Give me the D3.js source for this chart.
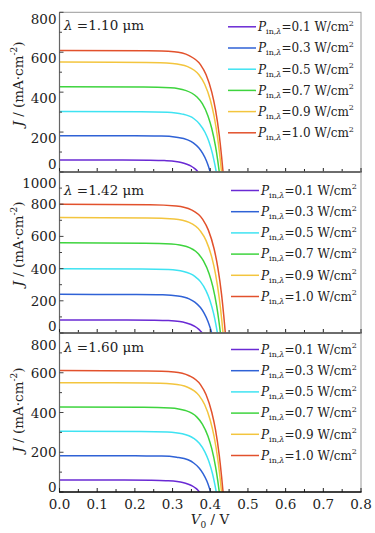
<!DOCTYPE html>
<html>
<head>
<meta charset="utf-8">
<script src="https://cdn.jsdelivr.net/npm/d3@7"></script>
<style>
  body { margin: 0; background: #fff; }
  #chart text { font-family: "DejaVu Serif", serif; }
</style>
</head>
<body>
<div id="chart"></div>
<script>
/* J-V curves of the cell at three wavelengths, six input powers each. */

const width = 375, height = 533;
const margin = { left: 59.5, right: 14 };

const powers = ["0.1", "0.3", "0.5", "0.7", "0.9", "1.0"];
const colors = ["#6a2ad4", "#2f62d6", "#3fe3f2", "#3ed43e", "#f3c53e", "#e2512c"];
const xTicks = [0, 0.1, 0.2, 0.3, 0.4, 0.5, 0.6, 0.7, 0.8];

// wavelength 1.10 um
const v110 = [
  [0, 0.168, 0.238, 0.278, 0.308, 0.323, 0.338, 0.348, 0.358, 0.364, 0.368],
  [0, 0.200, 0.270, 0.310, 0.340, 0.355, 0.370, 0.380, 0.390, 0.396, 0.400],
  [0, 0.216, 0.286, 0.326, 0.356, 0.371, 0.386, 0.396, 0.406, 0.412, 0.416],
  [0, 0.224, 0.294, 0.334, 0.364, 0.379, 0.394, 0.404, 0.414, 0.420, 0.424],
  [0, 0.230, 0.300, 0.340, 0.370, 0.385, 0.400, 0.410, 0.420, 0.426, 0.430],
  [0, 0.234, 0.304, 0.344, 0.374, 0.389, 0.404, 0.414, 0.424, 0.430, 0.434]
];
const j110 = [
  [60, 60, 59, 57, 53, 48, 39, 31, 18, 8, 0],
  [182, 181, 180, 174, 161, 146, 120, 93, 55, 24, 0],
  [303, 302, 299, 290, 268, 242, 199, 155, 91, 39, 0],
  [427, 426, 422, 409, 377, 342, 281, 218, 128, 56, 0],
  [551, 549, 544, 528, 487, 441, 362, 281, 165, 72, 0],
  [609, 607, 602, 583, 538, 487, 400, 311, 183, 79, 0]
];

// wavelength 1.42 um
const v142 = [
  [0, 0.179, 0.249, 0.289, 0.319, 0.334, 0.349, 0.359, 0.369, 0.375, 0.379],
  [0, 0.204, 0.274, 0.314, 0.344, 0.359, 0.374, 0.384, 0.394, 0.400, 0.404],
  [0, 0.219, 0.289, 0.329, 0.359, 0.374, 0.389, 0.399, 0.409, 0.415, 0.419],
  [0, 0.227, 0.297, 0.337, 0.367, 0.382, 0.397, 0.407, 0.417, 0.423, 0.427],
  [0, 0.234, 0.304, 0.344, 0.374, 0.389, 0.404, 0.414, 0.424, 0.430, 0.434],
  [0, 0.240, 0.310, 0.350, 0.380, 0.395, 0.410, 0.420, 0.430, 0.436, 0.440]
];
const j142 = [
  [80, 80, 79, 77, 71, 64, 53, 41, 24, 10, 0],
  [240, 239, 237, 230, 212, 192, 158, 122, 72, 31, 0],
  [399, 398, 394, 382, 352, 319, 262, 204, 120, 52, 0],
  [560, 558, 553, 537, 495, 448, 368, 286, 168, 73, 0],
  [717, 715, 708, 687, 633, 574, 471, 366, 215, 93, 0],
  [799, 797, 789, 765, 706, 639, 525, 408, 240, 104, 0]
];

// wavelength 1.60 um
const v160 = [
  [0, 0.172, 0.242, 0.282, 0.312, 0.327, 0.342, 0.352, 0.362, 0.368, 0.372],
  [0, 0.201, 0.271, 0.311, 0.341, 0.356, 0.371, 0.381, 0.391, 0.397, 0.401],
  [0, 0.216, 0.286, 0.326, 0.356, 0.371, 0.386, 0.396, 0.406, 0.412, 0.416],
  [0, 0.224, 0.294, 0.334, 0.364, 0.379, 0.394, 0.404, 0.414, 0.420, 0.424],
  [0, 0.230, 0.300, 0.340, 0.370, 0.385, 0.400, 0.410, 0.420, 0.426, 0.430],
  [0, 0.234, 0.304, 0.344, 0.374, 0.389, 0.404, 0.414, 0.424, 0.430, 0.434]
];
const j160 = [
  [60, 60, 59, 57, 53, 48, 39, 31, 18, 8, 0],
  [183, 182, 181, 175, 162, 146, 120, 93, 55, 24, 0],
  [306, 305, 302, 293, 270, 245, 201, 156, 92, 40, 0],
  [428, 427, 423, 410, 378, 342, 281, 218, 128, 56, 0],
  [550, 548, 543, 527, 486, 440, 361, 281, 165, 72, 0],
  [611, 609, 604, 585, 540, 489, 401, 312, 183, 79, 0]
];

const panels = [
  { lambda: "1.10", v: v110, j: j110, ymax: 800, yTicks: [0, 200, 400, 600, 800],
    top: 12.3, bottom: 172, labelDy: 6, topDy: 6.5, zeroDy: -8, lamY: 30, legTop: 14.5, legX: 228, titleY: 84 },
  { lambda: "1.42", v: v142, j: j142, ymax: 1000, yTicks: [0, 200, 400, 600, 800, 1000],
    top: 172, bottom: 333, labelDy: 0, topDy: 11, zeroDy: -7, lamY: 194.5, legTop: 18.5, legX: 231, titleY: 244 },
  { lambda: "1.60", v: v160, j: j160, ymax: 800, yTicks: [0, 200, 400, 600, 800],
    top: 333, bottom: 492, labelDy: 0, topDy: 12, zeroDy: -5, lamY: 351.5, legTop: 16.5, legX: 231, titleY: 410 }
];

const svg = d3.select("#chart")
  .append("svg")
  .attr("width", width)
  .attr("height", height)
  .attr("viewBox", [0, 0, width, height]);

let x = d3.scaleLinear()
  .domain([0, 0.8])
  .range([margin.left, width - margin.right]);

panels.forEach((p, pi) => {
  let y = d3.scaleLinear()
    .domain([0, p.ymax])
    .range([p.bottom, p.top]);

  let clipId = "clip" + pi;
  svg.append("clipPath").attr("id", clipId)
    .append("rect")
    .attr("x", x(0)).attr("y", p.top)
    .attr("width", x(0.8) - x(0)).attr("height", p.bottom - p.top);

  // grey frame
  svg.append("rect")
    .attr("x", x(0)).attr("y", p.top)
    .attr("width", x(0.8) - x(0)).attr("height", p.bottom - p.top)
    .attr("fill", "none")
    .attr("stroke", "#9a9a9a")
    .attr("stroke-width", 1);

  // curves
  let line = d3.line()
    .x(d => x(d[0]))
    .y(d => y(d[1]))
    .curve(d3.curveMonotoneX);

  p.v.forEach((vs, si) => {
    let pts = vs.map((v, k) => [v, p.j[si][k]]);
    svg.append("path")
      .datum(pts)
      .attr("clip-path", `url(#${clipId})`)
      .attr("d", line)
      .attr("fill", "none")
      .attr("stroke", colors[si])
      .attr("stroke-width", 1.5);
  });

  // left axis: inner ticks, end labels nudged inside like the original
  let yMinor = d3.range(0, p.ymax + 1, 100);
  let gy = svg.append("g");
  gy.append("line")
    .attr("x1", x(0)).attr("x2", x(0))
    .attr("y1", p.top).attr("y2", p.bottom)
    .attr("stroke", "#666").attr("stroke-width", 1.2);
  gy.selectAll(".yt")
    .data(yMinor)
    .join("line")
    .attr("x1", x(0)).attr("x2", d => x(0) + (d % 200 === 0 ? 4 : 2.5))
    .attr("y1", d => y(d)).attr("y2", d => y(d))
    .attr("stroke", "#444").attr("stroke-width", 1);
  gy.selectAll(".yl")
    .data(p.yTicks)
    .join("text")
    .attr("x", x(0) - 3)
    .attr("y", d => y(d) + 5 + (d === 0 ? p.zeroDy : d === p.ymax ? p.topDy : p.labelDy))
    .attr("text-anchor", "end")
    .attr("font-size", 13.5)
    .attr("fill", "#222")
    .text(d => d);

  // bottom axis of each panel, ticks pointing up
  let xMinor = d3.range(0, 0.81, 0.05);
  let gx = svg.append("g");
  gx.selectAll("line.xt")
    .data(xMinor)
    .join("line")
    .attr("x1", d => x(d)).attr("x2", d => x(d))
    .attr("y1", p.bottom).attr("y2", (d, i) => p.bottom - (i % 2 === 0 ? 4 : 3))
    .attr("stroke", "#222").attr("stroke-width", 1);
  gx.append("line")
    .attr("x1", x(0) - 0.5).attr("x2", x(0.8) + 0.5)
    .attr("y1", p.bottom).attr("y2", p.bottom)
    .attr("stroke", "#111").attr("stroke-width", 1.6);

  // wavelength label
  let lam = svg.append("text")
    .attr("x", 64).attr("y", p.lamY)
    .attr("font-size", 13.5).attr("fill", "#222");
  lam.append("tspan").attr("font-style", "italic").text("λ");
  lam.append("tspan").text(" =" + p.lambda + " μm");

  // y title
  let yt = svg.append("text")
    .attr("transform", `translate(23,${p.titleY}) rotate(-90)`)
    .attr("text-anchor", "middle")
    .attr("font-size", 13.5).attr("fill", "#222");
  yt.append("tspan").attr("font-style", "italic").text("J");
  yt.append("tspan").text(" / (mA·cm");
  yt.append("tspan").attr("font-size", 9).attr("dy", -6).text("-2");
  yt.append("tspan").attr("dy", 6).text(")");

  // legend
  powers.forEach((pw, si) => {
    let cy = p.top + p.legTop + si * 21.2;
    svg.append("line")
      .attr("x1", p.legX).attr("x2", p.legX + 28)
      .attr("y1", cy).attr("y2", cy)
      .attr("stroke", colors[si]).attr("stroke-width", 1.5);
    let t = svg.append("text")
      .attr("x", p.legX + 30).attr("y", cy + 4.3)
      .attr("font-size", 12).attr("fill", "#222");
    t.append("tspan").attr("font-style", "italic").text("P");
    t.append("tspan").attr("font-size", 8).attr("dy", 3).text("in,");
    t.append("tspan").attr("font-size", 8).attr("font-style", "italic").text("λ");
    t.append("tspan").attr("dy", -3).text("=" + pw + " W/cm");
    t.append("tspan").attr("font-size", 8).attr("dy", -5.5).text("2");
  });
});

// x tick labels on the lowest panel
svg.append("g")
  .selectAll("text")
  .data(xTicks)
  .join("text")
  .attr("x", d => x(d))
  .attr("y", 509)
  .attr("text-anchor", "middle")
  .attr("font-size", 13.5)
  .attr("fill", "#222")
  .text(d => d.toFixed(1));

let xt = svg.append("text")
  .attr("x", 210).attr("y", 524)
  .attr("text-anchor", "middle")
  .attr("font-size", 13.5).attr("fill", "#222");
xt.append("tspan").attr("font-style", "italic").text("V");
xt.append("tspan").attr("font-size", 9).attr("dy", 4).text("0");
xt.append("tspan").attr("dy", -4).text(" / V");
</script>
</body>
</html>
